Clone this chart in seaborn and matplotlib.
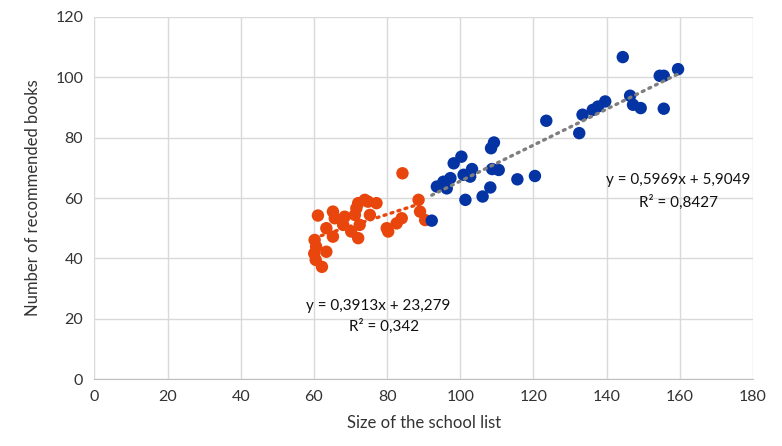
import numpy as np
import pandas as pd
import seaborn as sns
import matplotlib.pyplot as plt

# orange group (smaller school lists)
orange_x = [60.2, 60.6, 60.1, 60.5, 61.1, 62.2, 63.4, 63.4, 65.2, 65.7, 65.2,
            68.0, 68.4, 70.2, 71.2, 71.6, 72.1, 72.1, 72.5, 73.9, 74.8, 75.3,
            77.1, 79.9, 80.3, 82.6, 84.0, 84.2, 88.6, 89.0, 90.4]
orange_y = [46.1, 43.9, 41.6, 39.5, 54.2, 37.2, 42.2, 50.0, 55.5, 53.3, 47.2,
            51.1, 53.8, 48.9, 54.4, 56.6, 58.3, 46.7, 51.1, 59.4, 58.8, 54.4,
            58.3, 50.0, 48.9, 51.6, 53.3, 68.2, 59.4, 55.5, 52.7]

# blue group (larger school lists)
blue_x = [92.2, 93.6, 95.4, 96.3, 97.3, 98.2, 100.3, 100.9, 101.4, 102.7, 103.2,
          106.1, 108.2, 108.4, 108.7, 109.2, 110.5, 115.6, 120.4, 123.5, 132.5,
          133.4, 136.2, 137.6, 139.6, 144.4, 146.4, 147.2, 149.3, 154.5, 155.6,
          155.6, 159.5]
blue_y = [52.5, 63.8, 65.4, 63.2, 66.6, 71.5, 73.7, 67.7, 59.4, 67.1, 69.6,
          60.5, 63.5, 76.5, 69.6, 78.4, 69.3, 66.2, 67.3, 85.6, 81.5,
          87.6, 89.2, 90.3, 92.0, 106.7, 93.9, 90.9, 89.8, 100.5, 100.5,
          89.6, 102.7]

# trendline coefficients as printed on the chart
orange_fit = (0.3913, 23.279)
blue_fit = (0.5969, 5.9049)
orange_eq = ["y = 0,3913x + 23,279", "R² = 0,342"]
blue_eq = ["y = 0,5969x + 5,9049", "R² = 0,8427"]

ORANGE = "#E8460C"
BLUE = "#0433A3"

df = pd.DataFrame({
    "size": orange_x + blue_x,
    "books": orange_y + blue_y,
    "group": ["small"] * len(orange_x) + ["large"] * len(blue_x),
})

sns.set_style("white")
plt.rcParams["font.family"] = ["Lato", "DejaVu Sans"]

fig = plt.figure(figsize=(7.82, 4.46), dpi=100)
ax = fig.add_axes([0.1206, 0.150, 0.8424, 0.812])

sns.scatterplot(data=df, x="size", y="books", hue="group",
                palette={"small": ORANGE, "large": BLUE},
                s=80, linewidth=0, legend=False, zorder=3, ax=ax)

# dotted linear trendlines over each group's range
for xs, (a, b), col in [(orange_x, orange_fit, ORANGE), (blue_x, blue_fit, "#7f7f7f")]:
    xx = np.array([min(xs), max(xs)])
    ax.plot(xx, a * xx + b, color=col, lw=2.4, ls=(0, (0.6, 1.6)),
            dash_capstyle="round", zorder=4)

txt = dict(ha="center", va="center", fontsize=11, color="#111111")
ax.text(77.7, 24.3, orange_eq[0], **txt)
ax.text(79.3, 17.6, orange_eq[1], **txt)
ax.text(159.5, 66.0, blue_eq[0], **txt)
ax.text(159.5, 58.7, blue_eq[1], **txt)

ax.set_xlim(0, 180)
ax.set_ylim(0, 120)
ax.set_xticks(range(0, 181, 20))
ax.set_yticks(range(0, 121, 20))
ax.grid(True, color="#d9d9d9", lw=1)
ax.set_axisbelow(True)
for side in ["top", "right", "left"]:
    ax.spines[side].set_visible(False)
ax.spines["bottom"].set_color("#bfbfbf")
ax.tick_params(axis="both", length=0, labelsize=11.5, colors="#333333", pad=8)
ax.set_xlabel("Size of the school list", fontsize=12, color="#333333", labelpad=8)
ax.set_ylabel("Number of recommended books", fontsize=12, color="#333333", labelpad=10)

fig.savefig("out.png", dpi=100)
